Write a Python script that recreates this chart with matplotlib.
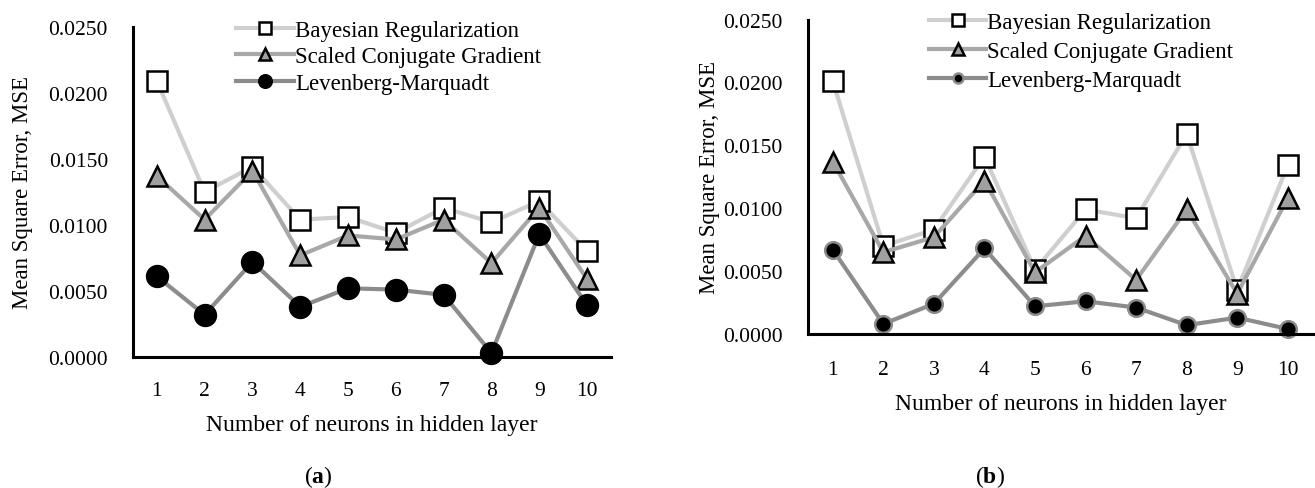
import matplotlib
matplotlib.use("Agg")
import matplotlib.pyplot as plt

plt.rcParams['font.family'] = ['Liberation Serif', 'DejaVu Serif']
plt.rcParams['mathtext.fontset'] = 'custom'
plt.rcParams['mathtext.rm'] = 'Liberation Serif'
plt.rcParams['mathtext.bf'] = 'Liberation Serif:bold'

neurons = [1, 2, 3, 4, 5, 6, 7, 8, 9, 10]
yticks = [0.0, 0.005, 0.010, 0.015, 0.020, 0.025]

# (a)
br_a = [0.0209, 0.0125, 0.0144, 0.0104, 0.0106, 0.0094, 0.0113, 0.0102, 0.0118, 0.0080]
scg_a = [0.0137, 0.0104, 0.0141, 0.0077, 0.0092, 0.0089, 0.0104, 0.0071, 0.0113, 0.0059]
lm_a = [0.0061, 0.0032, 0.0072, 0.0038, 0.0052, 0.0051, 0.0047, 0.0003, 0.0093, 0.0039]

# (b)
br_b = [0.0201, 0.0070, 0.0083, 0.0141, 0.0051, 0.0099, 0.0092, 0.0159, 0.0035, 0.0134]
scg_b = [0.0137, 0.0065, 0.0077, 0.0122, 0.0049, 0.0078, 0.0043, 0.0099, 0.0032, 0.0108]
lm_b = [0.0067, 0.0008, 0.0024, 0.0068, 0.0022, 0.0026, 0.0021, 0.0007, 0.0013, 0.0004]

labels = ['Bayesian Regularization', 'Scaled Conjugate Gradient', 'Levenberg-Marquadt']

fig = plt.figure(figsize=(13.15, 4.89), dpi=100)


def panel(rect, br, scg, lm, lm_ms, lm_edge, leg_anchor, leg_space, ylabel_x, xpad, xlabelpad):
    ax = fig.add_axes(rect)
    ax.plot(neurons, br, color='#cfcfcf', lw=3, marker='s', ms=14,
            mfc='white', mec='black', mew=1.8, label=labels[0])
    ax.plot(neurons, scg, color='#a8a8a8', lw=3, marker='^', ms=15,
            mfc='#a0a0a0', mec='black', mew=1.8, label=labels[1])
    ax.plot(neurons, lm, color='#8c8c8c', lw=3, marker='o', ms=lm_ms,
            mfc='black', mec=lm_edge, mew=1.8, label=labels[2])
    ax.set_xlim(0.5, 10.5)
    ax.set_ylim(0, 0.025)
    ax.set_xticks(neurons)
    ax.set_yticks(yticks)
    ax.set_yticklabels(['%.4f' % v for v in yticks])
    ax.tick_params(length=0, labelsize=15.5)
    ax.tick_params(axis='y', pad=18)
    ax.tick_params(axis='x', pad=xpad)
    for s in ['top', 'right']:
        ax.spines[s].set_visible(False)
    for s in ['left', 'bottom']:
        ax.spines[s].set_linewidth(2.2)
        ax.spines[s].set_color('black')
    ax.set_xlabel('Number of neurons in hidden layer', fontsize=17, labelpad=xlabelpad)
    ax.set_ylabel('Mean Square Error, MSE', fontsize=16.5)
    ax.yaxis.set_label_coords(ylabel_x, 0.5)
    ax.legend(loc='upper left', bbox_to_anchor=leg_anchor, frameon=False,
              fontsize=16.5, handlelength=2.5, handletextpad=0.05,
              labelspacing=leg_space, borderaxespad=0, borderpad=0,
              markerscale=0.6)
    for ln in ax.lines:
        ln.set_clip_on(False)
    return ax


ax_a = panel([0.1011, 0.268, 0.3635, 0.675], br_a, scg_a, lm_a, 15, 'black',
             (0.2165, 1.022), 0.25, -0.209, 17.5, 10)
ax_b = panel([0.6141, 0.315, 0.3844, 0.643], br_b, scg_b, lm_b, 12, '#8c8c8c',
             (0.240, 1.023), 0.35, -0.173, 19, 9.5)

fig.text(318 / 1315, 1 - 477 / 489, r'($\mathbf{a}$)', ha='center', va='center', fontsize=17)
fig.text(990 / 1315, 1 - 477 / 489, r'($\mathbf{b}$)', ha='center', va='center', fontsize=17)

fig.savefig('out.png', dpi=100)
